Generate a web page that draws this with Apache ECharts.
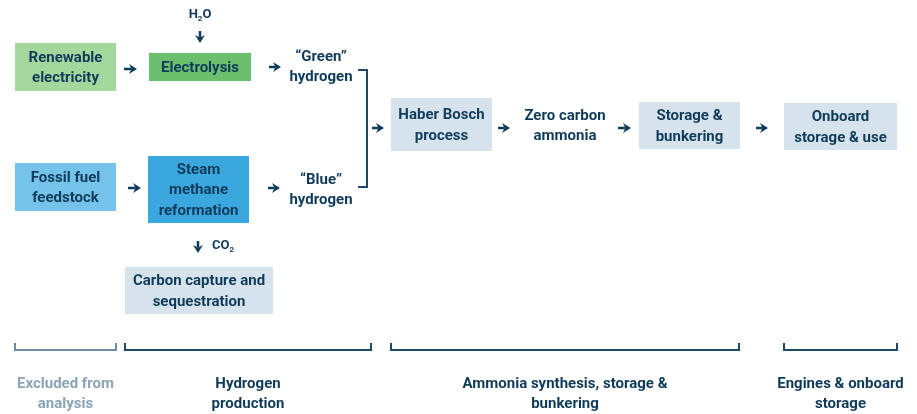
<!DOCTYPE html>
<html>
<head>
<meta charset="utf-8">
<script src="https://cdn.jsdelivr.net/npm/echarts@6/dist/echarts.min.js"></script>
<style>
html, body { margin: 0; padding: 0; background: #fff; }
#main { width: 917px; height: 414px; }
</style>
</head>
<body>
<div id="main"></div>
<script>
// steps drawn as boxes
var boxLabels = ['Renewable\nelectricity', 'Electrolysis', 'Fossil fuel\nfeedstock', 'Steam\nmethane\nreformation',
    'Carbon capture and\nsequestration', 'Haber Bosch\nprocess', 'Storage &\nbunkering', 'Onboard\nstorage & use'];
// products written without a box
var productLabels = ['\u201cGreen\u201d\nhydrogen', '\u201cBlue\u201d\nhydrogen', 'Zero carbon\nammonia'];
// stage names under the brackets
var stageLabels = ['Excluded from\nanalysis', 'Hydrogen\nproduction', 'Ammonia synthesis, storage &\nbunkering', 'Engines & onboard\nstorage'];
// input / output substances (formula, subscript)
var flowLabels = [['H', '2', 'O'], ['CO', '2', '']];

// layout, in diagram units (1 unit = 1 px)
var boxRects = [[15, 43, 116, 91], [149, 53, 251, 81], [15, 163, 116, 211], [148, 156, 249, 223],
    [125, 267, 273, 314], [391, 98, 492, 151], [639, 102, 740, 149], [784, 103, 897, 150]];
var boxFills = ['#a4d79c', '#6cbf6d', '#75c2ea', '#3aa7de', '#d7e3ec', '#d7e3ec', '#d7e3ec', '#d7e3ec'];
var productPos = [[321, 67], [321, 190], [565, 126]];
var flowPos = [[200, 15, 'center'], [212, 246, 'left']];
var stageSpans = [[15, 116], [125, 371], [391, 739], [784, 897]];
var stageColors = ['#8aa3b5', '#0f3b5a', '#0f3b5a', '#0f3b5a'];
var bracketColors = ['#6d8ca3', '#1f4766', '#1f4766', '#1f4766'];
var arrows = [[200, 31, 200, 43], [124, 69, 137, 69], [269, 67, 281, 67], [128, 188, 141, 188], [268, 188, 280, 188],
    [198, 241, 198, 253], [372, 128, 384, 128], [498, 128, 510, 128], [618, 128, 631, 128], [756, 128, 768, 128]];
var mergeLine = [[358, 70], [367, 70], [367, 187], [358, 187]];

var navy = '#0f3b5a';
var fontFamily = 'Roboto, "Noto Sans", sans-serif';

var myChart = echarts.init(document.getElementById('main'));

function textEl(x, y, text, color, align) {
    return {
        type: 'text', x: x, y: y,
        style: {
            text: text, fill: color, fontFamily: fontFamily, fontWeight: 'bold', fontSize: 15,
            lineHeight: 20.5, align: align || 'center', verticalAlign: 'middle'
        }
    };
}

var option = {
    animation: false,
    grid: {left: 0, right: 0, top: 0, bottom: 0},
    xAxis: {type: 'value', min: 0, max: 917, show: false},
    yAxis: {type: 'value', min: 0, max: 414, inverse: true, show: false},
    series: [
        {
            // boxes
            type: 'custom', clip: false,
            data: boxRects.map(function (r, i) { return r.concat([i]); }),
            renderItem: function (params, api) {
                var p0 = api.coord([api.value(0), api.value(1)]);
                var p1 = api.coord([api.value(2), api.value(3)]);
                var i = api.value(4);
                return {
                    type: 'group',
                    children: [
                        {type: 'rect', shape: {x: p0[0], y: p0[1], width: p1[0] - p0[0], height: p1[1] - p0[1]},
                            style: {fill: boxFills[i]}},
                        textEl((p0[0] + p1[0]) / 2, (p0[1] + p1[1]) / 2 + 1, boxLabels[i], navy)
                    ]
                };
            }
        },
        {
            // free products
            type: 'custom', clip: false,
            data: productPos.map(function (p, i) { return p.concat([i]); }),
            renderItem: function (params, api) {
                var p = api.coord([api.value(0), api.value(1)]);
                return textEl(p[0], p[1], productLabels[api.value(2)], navy);
            }
        },
        {
            // H2O and CO2
            type: 'custom', clip: false,
            data: flowPos.map(function (p, i) { return [p[0], p[1], i]; }),
            renderItem: function (params, api) {
                var p = api.coord([api.value(0), api.value(1)]);
                var f = flowLabels[api.value(2)];
                return {
                    type: 'text', x: p[0], y: p[1],
                    style: {
                        text: '{b|' + f[0] + '}{s|' + f[1] + '}' + (f[2] ? '{b|' + f[2] + '}' : ''),
                        align: flowPos[api.value(2)][2], verticalAlign: 'middle',
                        rich: {
                            b: {fill: navy, fontFamily: fontFamily, fontWeight: 'bold', fontSize: 13, lineHeight: 16, verticalAlign: 'middle'},
                            s: {fill: navy, fontFamily: fontFamily, fontWeight: 'bold', fontSize: 8, lineHeight: 16, verticalAlign: 'bottom', padding: [7, 0, 0, 0]}
                        }
                    }
                };
            }
        },
        {
            // arrows
            type: 'custom', clip: false,
            data: arrows,
            renderItem: function (params, api) {
                var a = api.coord([api.value(0), api.value(1)]);
                var b = api.coord([api.value(2), api.value(3)]);
                var dx = b[0] - a[0], dy = b[1] - a[1];
                var len = Math.sqrt(dx * dx + dy * dy);
                var ux = dx / len, uy = dy / len, nx = -uy, ny = ux;
                var hl = 8, hw = 5, notch = 5.5;
                return {
                    type: 'group',
                    children: [
                        {type: 'line', shape: {x1: a[0], y1: a[1], x2: b[0] - ux * notch, y2: b[1] - uy * notch},
                            style: {stroke: navy, lineWidth: 2.5}},
                        {type: 'polygon', shape: {points: [
                            [b[0], b[1]],
                            [b[0] - ux * hl + nx * hw, b[1] - uy * hl + ny * hw],
                            [b[0] - ux * notch, b[1] - uy * notch],
                            [b[0] - ux * hl - nx * hw, b[1] - uy * hl - ny * hw]
                        ]}, style: {fill: navy}}
                    ]
                };
            }
        },
        {
            // bracket joining green and blue hydrogen
            type: 'custom', clip: false,
            data: [[0]],
            renderItem: function (params, api) {
                return {
                    type: 'polyline',
                    shape: {points: mergeLine.map(function (p) { return api.coord(p); })},
                    style: {stroke: '#1f4766', lineWidth: 2, fill: null}
                };
            }
        },
        {
            // stage brackets and names
            type: 'custom', clip: false,
            data: stageSpans.map(function (s, i) { return s.concat([i]); }),
            renderItem: function (params, api) {
                var i = api.value(2);
                var l = api.coord([api.value(0), 343]);
                var r = api.coord([api.value(1), 350]);
                return {
                    type: 'group',
                    children: [
                        {type: 'polyline', shape: {points: [[l[0], l[1]], [l[0], r[1]], [r[0], r[1]], [r[0], l[1]]]},
                            style: {stroke: bracketColors[i], lineWidth: 2, fill: null}},
                        textEl((l[0] + r[0]) / 2, api.coord([0, 394])[1], stageLabels[i], stageColors[i])
                    ]
                };
            }
        }
    ]
};

myChart.setOption(option);
</script>
</body>
</html>
